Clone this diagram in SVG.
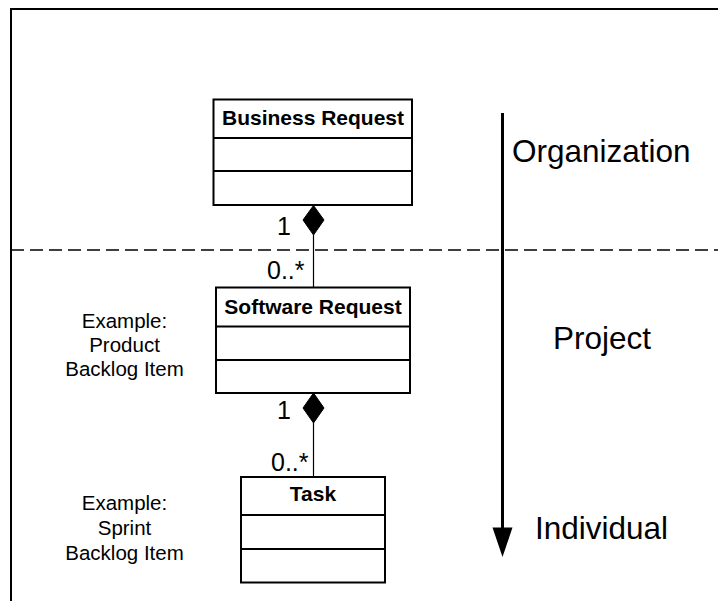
<svg xmlns="http://www.w3.org/2000/svg" width="718" height="601" viewBox="0 0 718 601">
  <style>
    .box { fill: #ffffff; stroke: #000000; stroke-width: 2; }
    .div { stroke: #000000; stroke-width: 2; }
    .title { font-family: "Liberation Sans", Arial, sans-serif; font-weight: bold; font-size: 21px; text-anchor: middle; fill: #000; }
    .mult { font-family: "Liberation Sans", Arial, sans-serif; font-size: 25px; fill: #000; }
    .note { font-family: "Liberation Sans", Arial, sans-serif; font-size: 20.5px; text-anchor: middle; fill: #000; }
    .level { font-family: "Liberation Sans", Arial, sans-serif; font-size: 31.5px; fill: #000; }
    .link { stroke: #000000; stroke-width: 1.2; fill: none; }
    .diamond { fill: #000000; stroke: #000000; stroke-width: 1; }
  </style>

  <rect width="718" height="601" fill="#ffffff"/>

  <!-- outer frame (top and left edges) -->
  <path d="M11,601 V9 H718" fill="none" stroke="#000" stroke-width="2"/>

  <!-- boundary between organization and project levels -->
  <line x1="11" y1="250" x2="718" y2="250" stroke="#000" stroke-width="1.6" stroke-dasharray="13,6"/>

  <!-- level arrow -->
  <g id="level-arrow">
    <line x1="502.5" y1="113" x2="502.5" y2="530" stroke="#000" stroke-width="3"/>
    <polygon points="492.5,527.5 512.5,527.5 502.5,557" fill="#000"/>
    <text class="level" x="512" y="162">Organization</text>
    <text class="level" x="553" y="348.5">Project</text>
    <text class="level" x="535" y="538.5">Individual</text>
  </g>

  <!-- connectors -->
  <g id="connectors">
    <line class="link" x1="313.5" y1="235" x2="313.5" y2="288"/>
    <polygon class="diamond" points="313.5,205.5 324,220 313.5,235 303,220"/>
    <text class="mult" x="277" y="235">1</text>
    <text class="mult" x="267" y="279">0..*</text>

    <line class="link" x1="313.5" y1="423" x2="313.5" y2="477"/>
    <polygon class="diamond" points="313.5,393 324,408 313.5,423 303,408"/>
    <text class="mult" x="277" y="419">1</text>
    <text class="mult" x="271" y="471">0..*</text>
  </g>

  <!-- Business Request class -->
  <g id="business-request">
    <rect class="box" x="213.5" y="99.5" width="198.5" height="105.5"/>
    <line class="div" x1="213.5" y1="138" x2="412" y2="138"/>
    <line class="div" x1="213.5" y1="171" x2="412" y2="171"/>
    <text class="title" x="313" y="124.5">Business Request</text>
  </g>

  <!-- Software Request class -->
  <g id="software-request">
    <rect class="box" x="216" y="287.5" width="194" height="105.5"/>
    <line class="div" x1="216" y1="326.5" x2="410" y2="326.5"/>
    <line class="div" x1="216" y1="360" x2="410" y2="360"/>
    <text class="title" x="313" y="313.5">Software Request</text>
  </g>

  <!-- Task class -->
  <g id="task">
    <rect class="box" x="241" y="477" width="144" height="105.5"/>
    <line class="div" x1="241" y1="515" x2="385" y2="515"/>
    <line class="div" x1="241" y1="549" x2="385" y2="549"/>
    <text class="title" x="313" y="501">Task</text>
  </g>

  <!-- example notes -->
  <g id="note-product">
    <text class="note" x="124.5" y="328">Example:</text>
    <text class="note" x="124.5" y="352">Product</text>
    <text class="note" x="124.5" y="376">Backlog Item</text>
  </g>
  <g id="note-sprint">
    <text class="note" x="124.5" y="510">Example:</text>
    <text class="note" x="124.5" y="535">Sprint</text>
    <text class="note" x="124.5" y="560">Backlog Item</text>
  </g>
</svg>
